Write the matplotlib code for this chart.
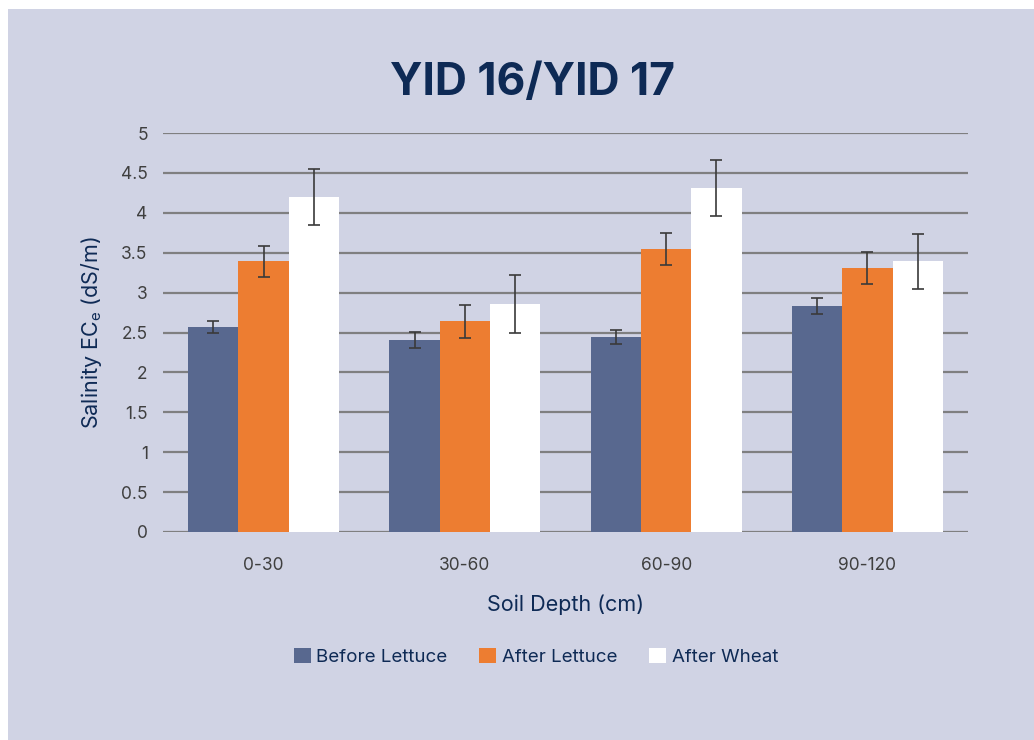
import numpy as np
import matplotlib
matplotlib.use('Agg')
import matplotlib.pyplot as plt
from matplotlib.patches import Rectangle

depths = ['0-30', '30-60', '60-90', '90-120']
series_names = ['Before Lettuce', 'After Lettuce', 'After Wheat']
before_lettuce = [2.57, 2.41, 2.44, 2.83]
before_lettuce_err = [0.08, 0.10, 0.09, 0.10]
after_lettuce = [3.39, 2.64, 3.55, 3.31]
after_lettuce_err = [0.20, 0.21, 0.20, 0.20]
after_wheat = [4.20, 2.86, 4.31, 3.39]
after_wheat_err = [0.35, 0.36, 0.35, 0.35]

navy = '#0E2A55'
bg = '#D0D3E4'
colors = ['#58688F', '#ED7D31', '#FFFFFF']

plt.rcParams['font.family'] = ['Inter', 'DejaVu Sans']

fig = plt.figure(figsize=(10.34, 7.40), dpi=100)
fig.patch.set_facecolor('white')
fig.patches.append(Rectangle((8 / 1034, 0), 1, 1 - 9 / 740, transform=fig.transFigure,
                             facecolor=bg, edgecolor='none', zorder=-10))

ax = fig.add_axes([163 / 1034, 1 - 532 / 740, (968 - 163) / 1034, (532 - 133) / 740])
ax.set_facecolor('none')

x = np.arange(len(depths))
w = 0.25
values = [before_lettuce, after_lettuce, after_wheat]
errors = [before_lettuce_err, after_lettuce_err, after_wheat_err]
for i in range(3):
    ax.bar(x + (i - 1) * w, values[i], w, color=colors[i], label=series_names[i], zorder=3,
           yerr=errors[i], error_kw=dict(ecolor='#3A3A3A', elinewidth=1.2, capsize=4.5, capthick=1.2, zorder=4))

ax.set_xlim(-0.5, 3.5)
ax.set_ylim(0, 5)
ax.set_yticks(np.arange(0, 5.01, 0.5))
ax.set_yticklabels(['0', '0.5', '1', '1.5', '2', '2.5', '3', '3.5', '4', '4.5', '5'])
ax.set_xticks(x)
ax.set_xticklabels(depths)
ax.yaxis.grid(True, color='#7F7F80', linewidth=1.6, zorder=0)
ax.set_axisbelow(True)
for s in ax.spines.values():
    s.set_visible(False)
ax.tick_params(axis='both', length=0, labelsize=12.5, labelcolor='#3F3F3F')
ax.tick_params(axis='y', pad=11)
ax.tick_params(axis='x', pad=18)

ax.set_ylabel(r'Salinity EC$_\mathregular{e}$ (dS/m)', fontsize=15.5, color=navy, labelpad=12)
ax.set_xlabel('Soil Depth (cm)', fontsize=15.5, color=navy, labelpad=15)

fig.text(533 / 1034, 1 - 83 / 740, 'YID 16/YID 17', fontsize=32, fontweight='bold',
         color=navy, ha='center', va='center')

leg = fig.legend(loc='center', bbox_to_anchor=(536 / 1034, 1 - 657 / 740), ncol=3, frameon=False,
                 fontsize=13.5, handlelength=0.9, handleheight=0.9, handletextpad=0.3, columnspacing=1.7)
for t in leg.get_texts():
    t.set_color(navy)

fig.savefig('out.png', dpi=100, facecolor=fig.get_facecolor())
